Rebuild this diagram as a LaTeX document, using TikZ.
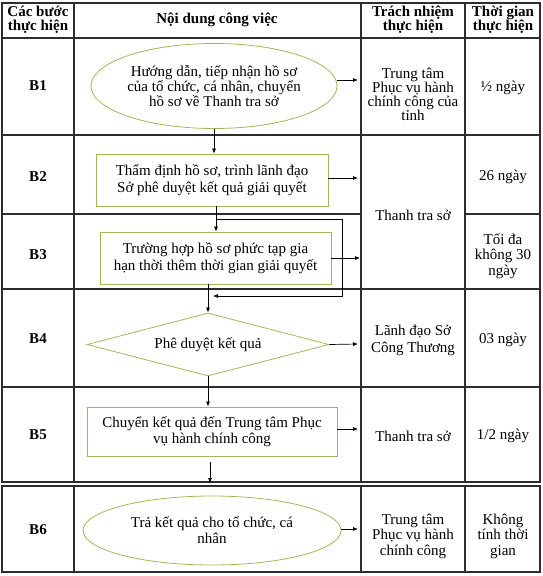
\documentclass[tikz,border=0pt]{standalone}
\usepackage{fontspec}
\setmainfont{Liberation Serif}
\usetikzlibrary{shapes.geometric,arrows.meta}
\definecolor{shapegreen}{RGB}{155,187,89}
\definecolor{gridc}{RGB}{45,45,45}
\begin{document}
\begin{tikzpicture}[x=1pt,y=-1pt,
  grid/.style={draw=gridc,line width=1.1pt},
  txt/.style={font=\fontsize{15}{14}\selectfont,align=center,inner sep=0pt},
  hdr/.style={align=center,inner sep=0pt,font=\fontsize{15}{14}\selectfont\bfseries},
  shp/.style={draw=shapegreen,line width=0.8pt,align=center,inner sep=0pt,font=\fontsize{15}{14}\selectfont},
  boxs/.style={shp,rectangle,font=\fontsize{15}{17}\selectfont},
  arr/.style={draw=black,line width=0.7pt,-{Latex[length=5pt,width=4pt]}}
]
\useasboundingbox (0,0) rectangle (542,576);
% table grid
\draw[grid] (2,3) rectangle (540,482);
\draw[grid] (2,486) rectangle (540,572);
\foreach \x in {74,361,465} {
  \draw[grid] (\x,3) -- (\x,482);
  \draw[grid] (\x,486) -- (\x,572);
}
\foreach \y in {38,135,289,387} \draw[grid] (2,\y) -- (540,\y);
\draw[grid] (2,214) -- (361,214);
\draw[grid] (465,214) -- (540,214);

% header
\node[hdr] (h1) at (38,20) {Các bước\\thực hiện};
\node[hdr] (h2) at (217,20) {Nội dung công việc};
\node[hdr] (h3) at (413,20) {Trách nhiệm\\thực hiện};
\node[hdr] (h4) at (503,20) {Thời gian\\thực hiện};

% step labels
\node[hdr] (s1) at (38,86) {B1};
\node[hdr] (s2) at (38,177) {B2};
\node[hdr] (s3) at (38,255) {B3};
\node[hdr] (s4) at (38,339) {B4};
\node[hdr] (s5) at (38,435) {B5};
\node[hdr] (s6) at (38,530) {B6};

% responsibility
\node[txt] (r1) at (413,94) {Trung tâm\\Phục vụ hành\\chính công của\\tỉnh};
\node[txt] (r23) at (413,215) {Thanh tra sở};
\node[txt,font=\fontsize{15}{17}\selectfont] (r4) at (413,340) {Lãnh đạo Sở\\Công Thương};
\node[txt] (r5) at (413,436) {Thanh tra sở};
\node[txt,font=\fontsize{15}{15.5}\selectfont] (r6) at (413,536) {Trung tâm\\Phục vụ hành\\chính công};

% time
\node[txt] (t1) at (503,88) {½ ngày};
\node[txt] (t2) at (503,177) {26 ngày};
\node[txt,font=\fontsize{15}{15.5}\selectfont] (t3) at (503,256) {Tối đa\\không 30\\ngày};
\node[txt] (t4) at (503,340) {03 ngày};
\node[txt] (t5) at (503,436) {1/2 ngày};
\node[txt,font=\fontsize{15}{15.5}\selectfont] (t6) at (503,536) {Không\\tính thời\\gian};

% shapes
\node[shp,ellipse,minimum width=246pt,minimum height=85pt] (e1) at (214,86)
  {Hướng dẫn, tiếp nhận hồ sơ\\của tổ chức, cá nhân, chuyển\\hồ sơ về Thanh tra sở};
\node[boxs,minimum width=232pt,minimum height=52pt] (b2) at (212,180)
  {Thẩm định hồ sơ, trình lãnh đạo\\Sở phê duyệt kết quả giải quyết};
\node[boxs,minimum width=231pt,minimum height=52pt] (b3) at (215.5,258)
  {Trường hợp hồ sơ phức tạp gia\\hạn thời thêm thời gian giải quyết};
\node[shp,diamond,aspect=3.8,minimum width=242pt,minimum height=63pt] (d4) at (208,344.5)
  {Phê duyệt kết quả};
\node[boxs,font=\fontsize{15}{16}\selectfont,minimum width=250pt,minimum height=49pt] (b5) at (212,431.5)
  {Chuyển kết quả đến Trung tâm Phục\\vụ hành chính công};
\node[shp,ellipse,font=\fontsize{15}{16}\selectfont,minimum width=258pt,minimum height=69pt] (e6) at (212,530.5)
  {Trả kết quả cho tổ chức, cá\\nhân};

% free-end coordinates
\coordinate (x1) at (358,80);
\coordinate (x2) at (358,178);
\coordinate (x3) at (360,258);
\coordinate (x4) at (358,344);
\coordinate (x5) at (358,429);
\coordinate (x6) at (358,529);
\coordinate (bpA) at (216,219);
\coordinate (bpB) at (342,296);
\coordinate (bpEnd) at (213,296);
\coordinate (c56) at (210,483);

% connectors
\draw[arr] (e1.east |- x1) -- (x1);
\draw[arr] (b2.east |- x2) -- (x2);
\draw[arr] (b3.east) -- (x3);
\draw[arr] (d4.east) -- (x4);
\draw[arr] (b5.east |- x5) -- (x5);
\draw[arr] (e6.east |- x6) -- (x6);

\draw[arr] (e1.south) -- (e1.south |- b2.north);
\draw[arr] (b2.south -| bpA) -- (b3.north -| bpA);
\draw[arr] (bpA) -| (bpB) -- (bpEnd);
\draw[arr] (b3.south -| d4.north) -- (d4.north);
\draw[arr] (d4.south) -- (d4.south |- b5.north);
\draw[arr] ([yshift=-6pt]b5.south -| c56) -- (c56);
\end{tikzpicture}
\end{document}
